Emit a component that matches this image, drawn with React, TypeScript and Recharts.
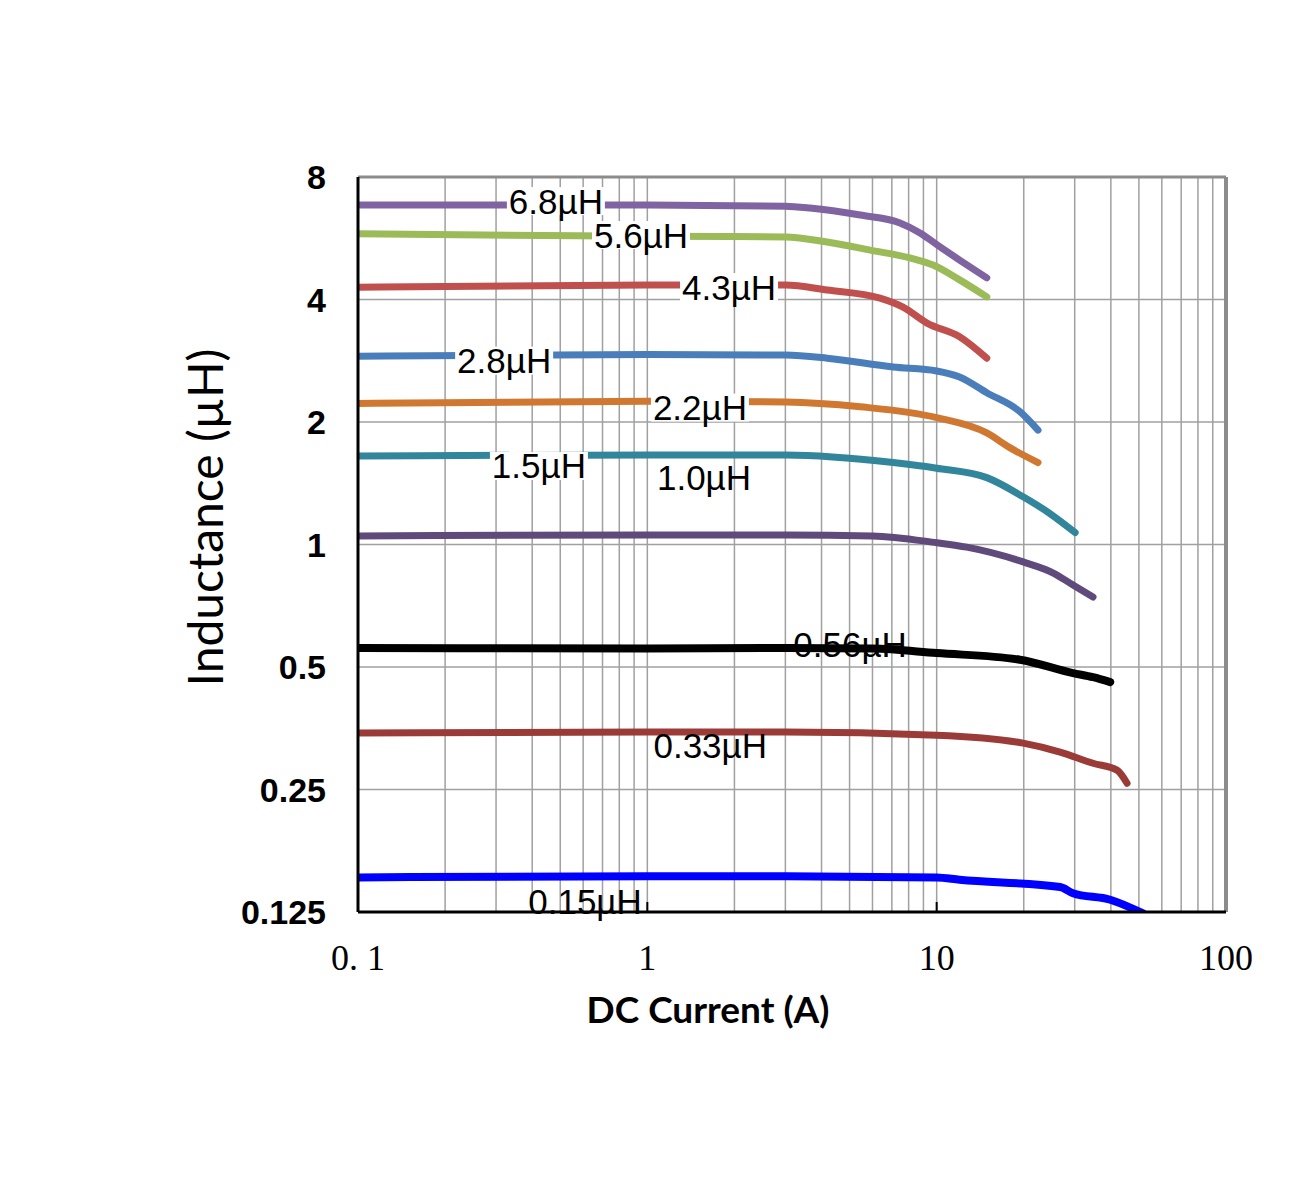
import React from "react";
import {
  CartesianGrid,
  Label,
  Line,
  LineChart,
  ReferenceDot,
  ReferenceLine,
  XAxis,
  YAxis,
} from "recharts";

// log grid: every 1..9 of each decade
const X_TICKS = [
  0.1, 0.2, 0.3, 0.4, 0.5, 0.6, 0.7, 0.8, 0.9,
  1, 2, 3, 4, 5, 6, 7, 8, 9,
  10, 20, 30, 40, 50, 60, 70, 80, 90, 100,
];
const X_DECADES = [0.1, 1, 10, 100];
const X_DECADE_LABELS = ["0. 1", "1", "10", "100"];
const Y_TICKS = [0.125, 0.25, 0.5, 1, 2, 4, 8];

// DC current (A) / inductance (uH) per part
const I_68 = [0.1, 1, 3, 3.65, 5.44, 7.47, 8.76, 10.3, 12, 14.9];
const L_68 = [6.83, 6.83, 6.78, 6.71, 6.45, 6.17, 5.83, 5.38, 5.0, 4.52];

const I_56 = [0.1, 1, 3, 4.18, 5.89, 8.09, 9.72, 12, 14.9];
const L_56 = [5.8, 5.72, 5.7, 5.54, 5.29, 5.06, 4.86, 4.47, 4.06];

const I_43 = [0.1, 1, 3, 4.18, 6.37, 7.65, 9.26, 12, 14.9];
const L_43 = [4.29, 4.34, 4.34, 4.22, 4.03, 3.83, 3.5, 3.24, 2.87];

const I_28 = [0.1, 1, 3, 4.18, 7.07, 10, 12, 14.9, 19.4, 22.4];
const L_28 = [2.9, 2.93, 2.92, 2.87, 2.73, 2.67, 2.58, 2.36, 2.12, 1.91];

const I_22 = [0.1, 1, 3, 5.44, 10, 14.9, 17.9, 22.4];
const L_22 = [2.22, 2.25, 2.24, 2.18, 2.05, 1.88, 1.73, 1.59];

const I_15 = [0.1, 1, 3, 7.07, 10, 14.9, 19.9, 24.7, 30.1];
const L_15 = [1.65, 1.66, 1.66, 1.59, 1.54, 1.46, 1.31, 1.19, 1.07];

const I_10 = [0.1, 1, 3, 6, 10, 12.7, 19.9, 25.3, 29.6, 34.7];
const L_10 = [1.05, 1.055, 1.055, 1.05, 1.01, 0.985, 0.906, 0.851, 0.795, 0.743];

const I_056 = [0.1, 1, 3, 6, 10, 19.4, 29.6, 34.7, 39.8];
const L_056 = [0.557, 0.555, 0.557, 0.555, 0.541, 0.521, 0.483, 0.472, 0.459];

const I_033 = [0.1, 1, 3, 10, 19.9, 26.7, 34.7, 42.0, 45.5];
const L_033 = [0.344, 0.346, 0.346, 0.34, 0.325, 0.309, 0.29, 0.279, 0.259];

const I_015 = [0.1, 1, 3, 10, 12, 26.7, 29.6, 39.8, 51.7];
const L_015 = [0.152, 0.153, 0.153, 0.152, 0.15, 0.144, 0.139, 0.134, 0.124];

const SERIES = [
  { key: "6.8", current: I_68, inductance: L_68, color: "#8064A2", width: 7 },
  { key: "5.6", current: I_56, inductance: L_56, color: "#9BBB59", width: 7 },
  { key: "4.3", current: I_43, inductance: L_43, color: "#C0504D", width: 7 },
  { key: "2.8", current: I_28, inductance: L_28, color: "#4A7EBB", width: 7 },
  { key: "2.2", current: I_22, inductance: L_22, color: "#D07832", width: 7 },
  { key: "1.5", current: I_15, inductance: L_15, color: "#31869B", width: 7 },
  { key: "1.0", current: I_10, inductance: L_10, color: "#604A7B", width: 7 },
  { key: "0.56", current: I_056, inductance: L_056, color: "#000000", width: 8 },
  { key: "0.33", current: I_033, inductance: L_033, color: "#9B3B38", width: 7 },
  { key: "0.15", current: I_015, inductance: L_015, color: "#0000FF", width: 8 },
];

// curve labels, anchored in data coordinates (current, inductance)
const LABEL_TEXT = ["6.8µH", "5.6µH", "4.3µH", "2.8µH", "2.2µH", "1.5µH", "1.0µH", "0.56µH", "0.33µH", "0.15µH"];
const LABEL_I = [0.483, 0.951, 1.916, 0.32, 1.52, 0.422, 1.57, 5.02, 1.65, 0.609];
const LABEL_L = [6.98, 5.76, 4.29, 2.83, 2.17, 1.56, 1.46, 0.569, 0.32, 0.133];

const FONT_SANS = "'Liberation Sans', Arial, sans-serif";

function XTick({ x, y, payload }: any) {
  const i = X_DECADES.indexOf(payload.value);
  if (i < 0) return <g />;
  return (
    <g>
      {i > 0 && i < 3 ? (
        <line x1={x} x2={x} y1={y} y2={y - 10} stroke="#000" strokeWidth={2} />
      ) : null}
      <text
        x={x}
        y={y + 58}
        textAnchor="middle"
        fontFamily="'Liberation Serif', 'Times New Roman', serif"
        fontSize={36}
        fill="#000"
      >
        {X_DECADE_LABELS[i]}
      </text>
    </g>
  );
}

function YTick({ x, y, payload }: any) {
  return (
    <text
      x={x - 32}
      y={y}
      textAnchor="end"
      dominantBaseline="central"
      fontFamily={FONT_SANS}
      fontWeight="bold"
      fontSize={34}
      fill="#000"
    >
      {payload.value}
    </text>
  );
}

function curveLabel(text: string, boxed: boolean) {
  return (props: any) => {
    const { cx, cy } = props;
    const w = text.length * 19.6;
    return (
      <g>
        {boxed ? <rect x={cx - w / 2} y={cy - 14} width={w} height={28} fill="#fff" /> : null}
        <text
          x={cx}
          y={cy}
          textAnchor="middle"
          dominantBaseline="central"
          fontFamily={FONT_SANS}
          fontSize={35}
          fill="#000"
        >
          {text}
        </text>
      </g>
    );
  };
}

export default function App() {
  return (
    <div style={{ position: "absolute", left: 0, top: 0 }}>
      <LineChart
        width={1300}
        height={1200}
        margin={{ top: 177, right: 74, bottom: 168, left: 50 }}
      >
        <CartesianGrid stroke="#a0a0a0" strokeWidth={1.5} />
        <XAxis
          dataKey="x"
          type="number"
          scale="log"
          domain={[0.1, 100]}
          ticks={X_TICKS}
          interval={0}
          allowDataOverflow
          axisLine={{ stroke: "#000", strokeWidth: 3 }}
          tickLine={false}
          tickSize={0}
          tickMargin={0}
          height={120}
          tick={<XTick />}
        >
          <Label
            content={({ viewBox }: any) => (
              <text
                x={viewBox.x + viewBox.width / 2 - 84}
                y={viewBox.y + 96}
                textAnchor="middle"
                dominantBaseline="central"
                fontFamily="Lato, 'Open Sans', sans-serif"
                fontWeight="bold"
                fontSize={37}
                fill="#000"
              >
                DC Current (A)
              </text>
            )}
          />
        </XAxis>
        <YAxis
          dataKey="y"
          type="number"
          scale="log"
          domain={[0.125, 8]}
          ticks={Y_TICKS}
          interval={0}
          allowDataOverflow
          axisLine={{ stroke: "#000", strokeWidth: 3 }}
          tickLine={false}
          tickSize={0}
          tickMargin={0}
          width={308}
          tick={<YTick />}
        >
          <Label
            content={({ viewBox }: any) => {
              const cx = viewBox.x + viewBox.width / 2;
              const cy = viewBox.y + viewBox.height / 2 - 27;
              return (
                <text
                  x={cx}
                  y={cy}
                  transform={`rotate(-90 ${cx} ${cy})`}
                  textAnchor="middle"
                  dominantBaseline="central"
                  fontFamily="Lato, 'Open Sans', sans-serif"
                  fontSize={48}
                  fill="#000"
                >
                  Inductance (µH)
                </text>
              );
            }}
          />
        </YAxis>
        <ReferenceLine y={8} stroke="#8c8c8c" strokeWidth={3} />
        <ReferenceLine x={100} stroke="#8c8c8c" strokeWidth={4} />
        <ReferenceDot
          x={LABEL_I[7]}
          y={LABEL_L[7]}
          r={1}
          shape={curveLabel(LABEL_TEXT[7], false)}
        />
        {SERIES.map((s) => (
          <Line
            key={s.key}
            data={s.current.map((c, i) => ({ x: c, y: s.inductance[i] }))}
            dataKey="y"
            type="monotone"
            stroke={s.color}
            strokeWidth={s.width}
            strokeLinecap="round"
            strokeLinejoin="round"
            dot={false}
            activeDot={false}
            isAnimationActive={false}
          />
        ))}
        {LABEL_TEXT.map((t, i) =>
          i === 7 ? null : (
            <ReferenceDot
              key={t}
              x={LABEL_I[i]}
              y={LABEL_L[i]}
              r={1}
              shape={curveLabel(t, i < 6)}
            />
          ),
        )}
      </LineChart>
    </div>
  );
}
